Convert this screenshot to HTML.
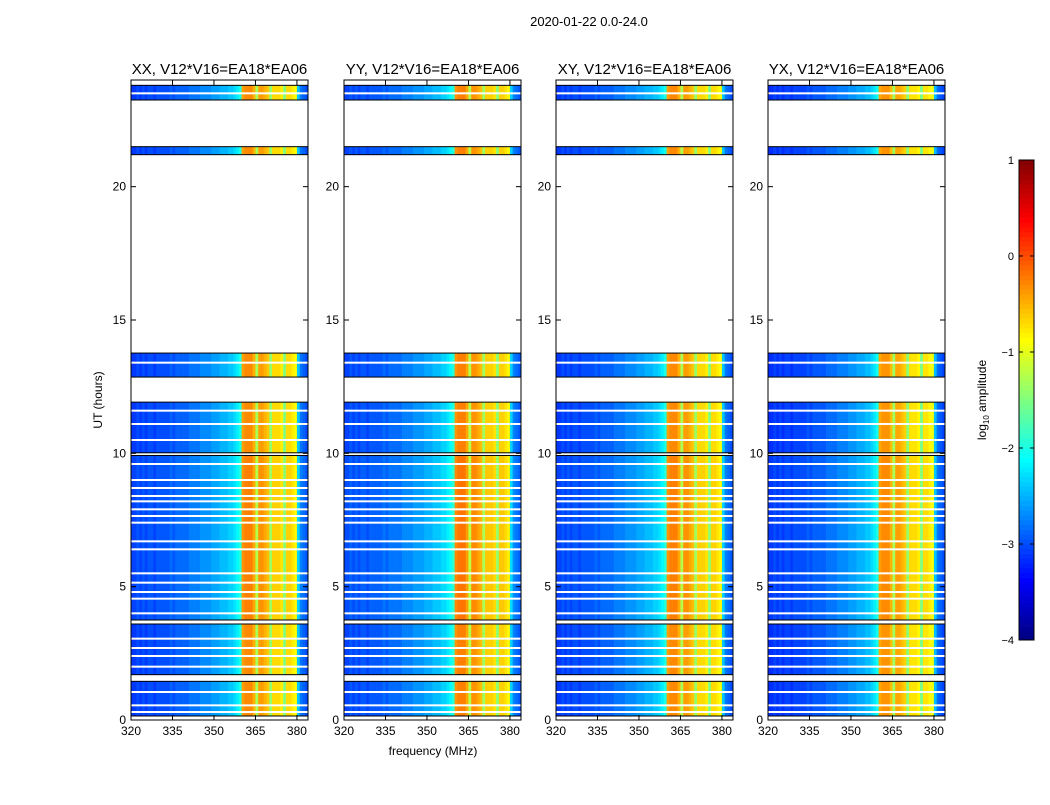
<!DOCTYPE html>
<html><head><meta charset="utf-8"><style>
body{margin:0;background:#fff;font-family:"Liberation Sans",sans-serif}
svg text{font-family:"Liberation Sans",sans-serif}
</style></head><body>
<svg id="c" width="1050" height="800" xmlns="http://www.w3.org/2000/svg">
<rect width="1050" height="800" fill="#fff"/>
<text x="589" y="26" font-size="13" text-anchor="middle">2020-01-22 0.0-24.0</text>
<text x="433" y="755" font-size="12" text-anchor="middle">frequency (MHz)</text>
<text transform="translate(102,400) rotate(-90)" font-size="12" text-anchor="middle">UT (hours)</text>
</svg>
<script>
const panelTitles=["XX, V12*V16=EA18*EA06","YY, V12*V16=EA18*EA06","XY, V12*V16=EA18*EA06","YX, V12*V16=EA18*EA06"];
const panelOffset=[0,0.05,0,-0.05];
const freqStart=320, freqStep=1;
const profile=[-3.1,-3.1,-3.0,-3.1,-3.0,-3.1,-3.0,-3.0,-3.1,-3.0,-3.0,-3.0,-3.0,-3.0,-2.9,-3.0,-2.9,-2.9,-2.9,-2.9,-2.9,-2.8,-2.8,-2.8,-2.8,-2.7,-2.7,-2.7,-2.7,-2.6,-2.6,-2.6,-2.5,-2.5,-2.5,-2.4,-2.4,-2.3,-2.2,-2.0,
-0.4,-0.3,-0.3,-0.3,-0.5,-1.3,-0.4,-0.4,-0.5,-0.6,-1.4,-0.7,-0.7,-0.7,-0.8,-1.5,-0.7,-0.7,-0.8,-0.9,-2.4,-2.8,-2.9,-3.0];
const segStart=[0.15,1.7,3.75,10.02,12.86,21.2,23.25];
const segEnd=[1.45,3.6,9.92,11.92,13.76,21.5,23.8];
const segLevel=[0,0,0.05,0,0,0,0];
const whiteGaps=[0.3,0.55,1.05,2.0,2.4,2.7,3.05,4.0,4.55,4.8,5.15,5.5,6.4,6.7,7.4,7.65,7.9,8.2,8.4,8.7,9.0,9.6,10.5,11.1,11.6,13.4,23.5];
const blackLines=[0.15,1.45,1.7,3.6,3.75,9.92,10.02,11.92,12.86,13.76,21.2,21.5,23.25,23.8];
const xTicks=[320,335,350,365,380];
const yTicks=[0,5,10,15,20];
const cbTicks=[1,0,-1,-2,-3,-4];
const panelX=[131,344,556,768], panelW=177, pTop=80, pBot=720;
const NS="http://www.w3.org/2000/svg";
const svg=document.getElementById('c');
function el(t,a,p){const e=document.createElementNS(NS,t);for(const k in a)e.setAttribute(k,a[k]);(p||svg).appendChild(e);return e;}
function jet(v){const t=Math.max(0,Math.min(1,(v+4)/5));
 const r=Math.max(0,Math.min(1,1.5-Math.abs(4*t-3))),g=Math.max(0,Math.min(1,1.5-Math.abs(4*t-2))),b=Math.max(0,Math.min(1,1.5-Math.abs(4*t-1)));
 return `rgb(${Math.round(r*255)},${Math.round(g*255)},${Math.round(b*255)})`;}
const yS=h=>pBot-(h/24)*(pBot-pTop);
panelX.forEach((px,pi)=>{
 const xS=f=>px+(f-320)/(384-320)*panelW;
 const g=el('g',{});
 
 
 segStart.forEach((s,si)=>{
  profile.forEach((v,ci)=>{
   const f0=freqStart+ci*freqStep;
   const r=el('rect',{x:xS(f0),y:yS(segEnd[si]),width:xS(f0+freqStep)-xS(f0)+0.3,height:yS(segStart[si])-yS(segEnd[si]),fill:jet(v+segLevel[si]+panelOffset[pi])},g);
   
   
  });
 });
 whiteGaps.forEach(h=>{const r=el('rect',{x:px,y:yS(h)-1,width:panelW,height:2,fill:'#fff'},g);
  
  });
 blackLines.forEach(h=>{const r=el('rect',{x:px,y:yS(h)-0.5,width:panelW,height:1,fill:'#000'},g);
  
  });
 const fr=el('rect',{x:px,y:pTop,width:panelW,height:pBot-pTop,fill:'none',stroke:'#000','stroke-width':1},g);
 
 
 const t=el('text',{x:px+panelW/2,y:74,'font-size':15,'text-anchor':'middle'},g);t.textContent=panelTitles[pi];
 
 
 xTicks.forEach(v=>{const x=xS(v);
  el('line',{x1:x,x2:x,y1:pBot,y2:pBot-5,stroke:'#000'},g);el('line',{x1:x,x2:x,y1:pTop,y2:pTop+5,stroke:'#000'},g);
  const l=el('text',{x:x,y:pBot+15,'font-size':12,'text-anchor':'middle'},g);l.textContent=v;
  
  });
 yTicks.forEach(v=>{const y=yS(v);
  el('line',{x1:px,x2:px+5,y1:y,y2:y,stroke:'#000'},g);el('line',{x1:px+panelW,x2:px+panelW-5,y1:y,y2:y,stroke:'#000'},g);
  const l=el('text',{x:px-5,y:y+4,'font-size':12,'text-anchor':'end'},g);l.textContent=v;
  
  });
});
const cbX=1019,cbW=15,cbT=160,cbB=640;
const cb=el('g',{});


const cS=v=>cbB-(v+4)/5*(cbB-cbT);
for(let i=0;i<100;i++){const v0=-4+i*0.05;el('rect',{x:cbX,y:cS(v0+0.05),width:cbW,height:cS(v0)-cS(v0+0.05)+0.3,fill:jet(v0+0.025)},cb);}
el('rect',{x:cbX,y:cbT,width:cbW,height:cbB-cbT,fill:'none',stroke:'#000'},cb);
cbTicks.forEach(v=>{const y=cS(v);el('line',{x1:cbX,x2:cbX+4,y1:y,y2:y,stroke:'#000'},cb);el('line',{x1:cbX+cbW,x2:cbX+cbW-4,y1:y,y2:y,stroke:'#000'},cb);
 const l=el('text',{x:cbX-5,y:y+4,'font-size':11,'text-anchor':'end'},cb);l.textContent=(v<0?'\u2212'+(-v):v);
 
 });
const ct=el('text',{transform:'translate(986,400) rotate(-90)','font-size':12,'text-anchor':'middle'},cb);
ct.innerHTML='log<tspan font-size="8" dy="3">10</tspan><tspan dy="-3"> amplitude</tspan>';


</script>
</body></html>
